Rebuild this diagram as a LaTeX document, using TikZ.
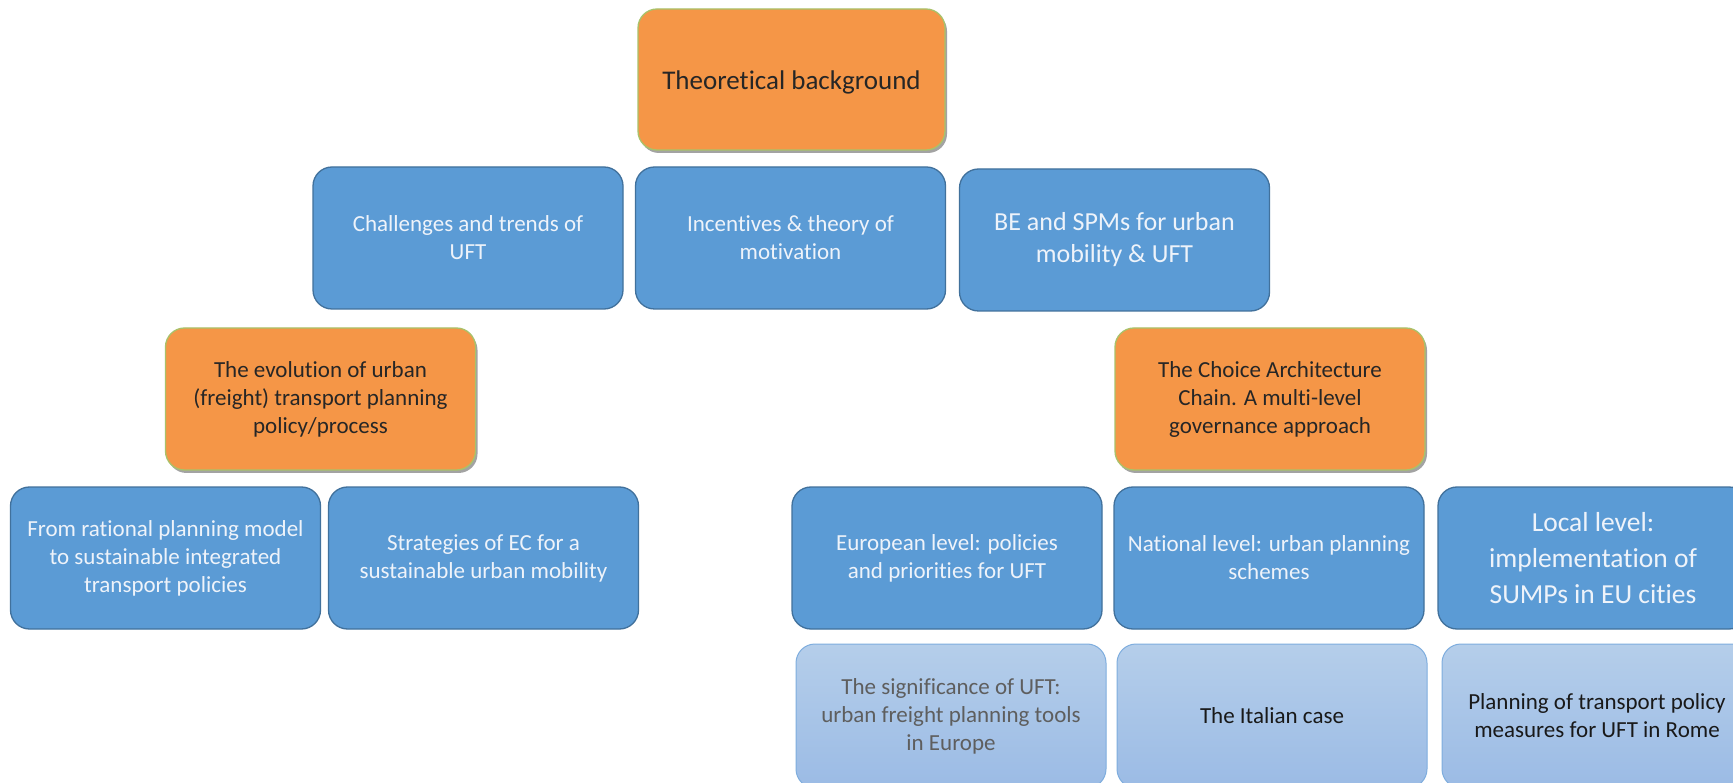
\documentclass[tikz,border=0pt]{standalone}
\usepackage{fontspec}
\setmainfont{Carlito}[Ligatures=NoCommon]
\usetikzlibrary{shadows}
\definecolor{bfill}{HTML}{5B9BD5}
\definecolor{bdraw}{HTML}{41719C}
\definecolor{btext}{HTML}{EEF3FA}
\definecolor{ofill}{HTML}{F59647}
\definecolor{odraw}{HTML}{A9C26A}
\definecolor{ltop}{HTML}{B5CEEA}
\definecolor{lbot}{HTML}{9BBBE5}
\definecolor{ldraw}{HTML}{7EADDE}
\definecolor{gtext}{HTML}{5E5E5E}
\tikzset{
  box/.style={rounded corners=19pt, minimum width=310pt, minimum height=142pt, align=center, inner sep=2pt, line width=1.3pt},
  bluebox/.style={box, fill=bfill, draw=bdraw, text=btext, font=\fontsize{23}{28}\selectfont},
  orangebox/.style={box, fill=ofill, draw=odraw, text=black!85, font=\fontsize{23}{28}\selectfont,
     drop shadow={shadow xshift=2pt, shadow yshift=-3pt, fill=black!45, opacity=0.8}},
  lightbox/.style={box, top color=ltop, bottom color=lbot, draw=ldraw, text=black!90, minimum height=144pt, line width=1pt, font=\fontsize{23}{28}\selectfont},
  big/.style={font=\fontsize{27.5}{36}\selectfont}
}
\begin{document}
\begin{tikzpicture}[x=1pt,y=-1pt]
\useasboundingbox (0,0) rectangle (1733,783);
\clip (0,0) rectangle (1733,783);
\fill[white] (0,0) rectangle (1733,783);

\node[orangebox, minimum width=307pt, minimum height=141pt, font=\fontsize{27}{33}\selectfont, text height=26pt, text depth=5pt] (tb) at (791.5,79.5) {Theoretical background};

\node[bluebox] (chal) at (468,238) {Challenges and trends of\\UFT};
\node[bluebox] (inc) at (790.5,238) {Incentives \& theory of\\motivation};
\node[bluebox, font=\fontsize{26}{32}\selectfont] (be) at (1114.5,240) {BE and SPMs for urban\\mobility \& UFT};

\node[orangebox] (evol) at (320.5,399) {The evolution of urban\\(freight) transport planning\\policy/process};
\node[orangebox] (cac) at (1270,399) {The Choice Architecture\\Chain. A multi-level\\governance approach};

\node[bluebox] (rat) at (165.5,558) {From rational planning model\\to sustainable integrated\\transport policies};
\node[bluebox] (strat) at (483.5,558) {Strategies of EC for a\\sustainable urban mobility};
\node[bluebox] (euro) at (947,558) {European level: policies\\and priorities for UFT};
\node[bluebox] (nat) at (1269,558) {National level: urban planning\\schemes};
\node[bluebox, big] (loc) at (1593,558) {Local level:\\implementation of\\SUMPs in EU cities};

\node[lightbox, text=gtext] (sig) at (951,716) {The significance of UFT:\\urban freight planning tools\\in Europe};
\node[lightbox] (ital) at (1272,716) {The Italian case};
\node[lightbox] (rome) at (1597,716) {Planning of transport policy\\measures for UFT in Rome};
\end{tikzpicture}
\end{document}
